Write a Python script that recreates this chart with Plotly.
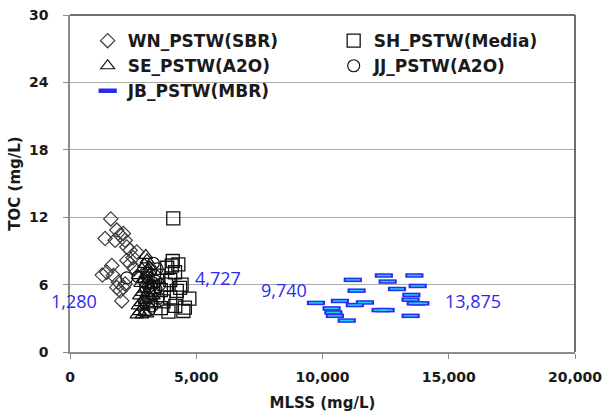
import plotly.graph_objects as go

# MLSS (mg/L) and TOC (mg/L) per plant
wn_mlss = [1615, 1390, 1853, 1984, 2115, 1786, 2183, 2250, 2381, 2647, 2250, 2381,
           1655, 1456, 1280, 1718, 1917, 1853, 2115, 2052, 1984, 2183, 2500, 2550]
wn_toc = [11.85, 10.1, 10.85, 10.4, 10.55, 9.95, 9.95, 9.35, 9.05, 8.9, 8.15, 7.85,
          7.7, 7.1, 6.85, 6.8, 6.2, 5.75, 5.75, 4.55, 5.45, 6.05, 8.4, 7.4]

sh_mlss = [4090, 4070, 4290, 4160, 3970, 4230, 4360, 4727, 4490, 4170, 3970, 3800,
           3600, 3700, 3900, 3500, 4420, 3850, 3300, 3600, 4030, 4550]
sh_toc = [11.9, 8.1, 7.8, 7.1, 6.4, 5.45, 5.7, 4.75, 3.65, 4.1, 4.85, 6.0,
          5.5, 4.5, 3.6, 6.8, 6.0, 7.5, 5.8, 3.9, 7.7, 3.95]

se_mlss = [2650, 2750, 2850, 2950, 3050, 2700, 2800, 2900, 3000, 3100, 3200, 2750,
           2850, 2950, 3050, 3150, 2800, 2900, 3000, 3100, 3200, 2850, 2950, 3050,
           3150, 3250, 3300, 2700, 3000, 3350]
se_toc = [3.3, 3.6, 3.3, 3.5, 3.4, 4.1, 4.4, 4.0, 4.6, 4.2, 4.8, 5.0,
          5.3, 5.6, 5.2, 5.9, 6.1, 6.5, 6.9, 6.4, 7.1, 7.4, 7.8, 8.2,
          7.6, 6.0, 5.0, 6.8, 8.6, 4.3]

jj_mlss = [2950, 3050, 3150, 3250, 3350, 3450, 3000, 3100, 3200, 3300, 3400, 3500,
           3250, 3150, 3350, 3050, 2950, 2250, 2700, 3400, 3550]
jj_toc = [4.4, 4.9, 5.5, 6.2, 6.8, 7.4, 5.8, 6.6, 7.3, 7.9, 5.6, 4.8,
          4.1, 3.8, 5.2, 7.0, 6.3, 6.6, 6.7, 6.3, 6.0]

jb_mlss = [11200, 12430, 13640, 12580, 13770, 11350, 12950, 9740, 10690, 11680, 11280,
           10360, 10430, 10490, 10960, 12300, 13520, 13490, 13690, 13875, 13490, 12500]
jb_toc = [6.42, 6.81, 6.81, 6.27, 5.88, 5.46, 5.61, 4.37, 4.54, 4.41, 4.18,
          3.88, 3.52, 3.22, 2.80, 3.73, 5.08, 4.66, 4.33, 4.33, 3.22, 3.73]

x_ticks = [0, 5000, 10000, 15000, 20000]
y_ticks = [0, 6, 12, 18, 24, 30]

FONT = "DejaVu Sans"
INK = "#1a1a1a"
BLUE = "#2b2bf0"

fig = go.Figure()

fig.add_trace(go.Scatter(
    x=wn_mlss, y=wn_toc, mode="markers", name="WN_PSTW(SBR)",
    marker=dict(symbol="diamond-open", size=11, color="#3c3c3c", line=dict(width=1.2))))
fig.add_trace(go.Scatter(
    x=sh_mlss, y=sh_toc, mode="markers", name="SH_PSTW(Media)",
    marker=dict(symbol="square-open", size=13, color="#111111", line=dict(width=1.3))))
fig.add_trace(go.Scatter(
    x=se_mlss, y=se_toc, mode="markers", name="SE_PSTW(A2O)",
    marker=dict(symbol="triangle-up-open", size=12, color="#111111", line=dict(width=1.2))))
fig.add_trace(go.Scatter(
    x=jj_mlss, y=jj_toc, mode="markers", name="JJ_PSTW(A2O)",
    marker=dict(symbol="circle-open", size=12, color="#111111", line=dict(width=1.2))))
fig.add_trace(go.Scatter(
    x=jb_mlss, y=jb_toc, mode="markers", name="JB_PSTW(MBR)",
    marker=dict(symbol="line-ew-open", size=13, color=BLUE, line=dict(width=4.5, color=BLUE))))
# tan core inside each MBR dash
fig.add_trace(go.Scatter(
    x=jb_mlss, y=jb_toc, mode="markers", showlegend=False, hoverinfo="skip",
    marker=dict(symbol="line-ew-open", size=10, line=dict(width=1.5, color="#a8704e"))))

# value labels for range ends
labels = [
    (min(wn_mlss), 4.55, "right", -3),
    (max(sh_mlss), 6.6, "left", 4),
    (min(jb_mlss), 5.55, "right", -7),
    (max(jb_mlss), 4.5, "left", 23),
]
for xv, yv, anchor, shift in labels:
    fig.add_annotation(x=xv, y=yv, text=f"{xv:,}", showarrow=False,
                       xanchor=anchor, yanchor="middle", xshift=shift,
                       font=dict(family="Open Sans", size=18, color=BLUE))

# dark frame on top and right
fig.add_shape(type="line", xref="paper", yref="paper", x0=0, x1=1, y0=1, y1=1,
              line=dict(color="#3f3f3f", width=1.5))
fig.add_shape(type="line", xref="paper", yref="paper", x0=1, x1=1, y0=0, y1=1,
              line=dict(color="#3f3f3f", width=1.5))

fig.update_layout(
    width=602, height=414,
    margin=dict(l=70, r=27, t=15, b=62, autoexpand=False),
    paper_bgcolor="white", plot_bgcolor="white",
    font=dict(family=FONT, color=INK),
    showlegend=True,
    legend=dict(
        orientation="h", x=0.035, y=0.976, xanchor="left", yanchor="top",
        entrywidth=201, entrywidthmode="pixels", bgcolor="rgba(0,0,0,0)",
        font=dict(family=FONT, size=17, color=INK, weight="bold"),
        itemsizing="trace", traceorder="normal"),
    xaxis=dict(
        range=[0, 20000], tickvals=x_ticks, tickformat=",d",
        showgrid=False, zeroline=False, automargin=False,
        showline=True, linecolor="#8c8c8c", linewidth=1.5,
        ticks="outside", ticklen=5, tickcolor="#8c8c8c",
        tickfont=dict(family=FONT, size=14, color=INK, weight="bold"),
        ticklabelstandoff=6, ticklabeloverflow="allow",
        title=dict(text="MLSS (mg/L)", standoff=14,
                   font=dict(family=FONT, size=15, color=INK, weight="bold"))),
    yaxis=dict(
        range=[0, 30], tickvals=y_ticks,
        showgrid=True, gridcolor="#a9a9a9", gridwidth=1.2, zeroline=False,
        automargin=False,
        showline=True, linecolor="#8c8c8c", linewidth=1.5,
        ticks="outside", ticklen=5, tickcolor="#8c8c8c",
        tickfont=dict(family=FONT, size=14, color=INK, weight="bold"),
        ticklabelstandoff=12,
        title=dict(text="TOC (mg/L)", standoff=5,
                   font=dict(family=FONT, size=15, color=INK, weight="bold"))),
)

fig.write_html("out.html")
